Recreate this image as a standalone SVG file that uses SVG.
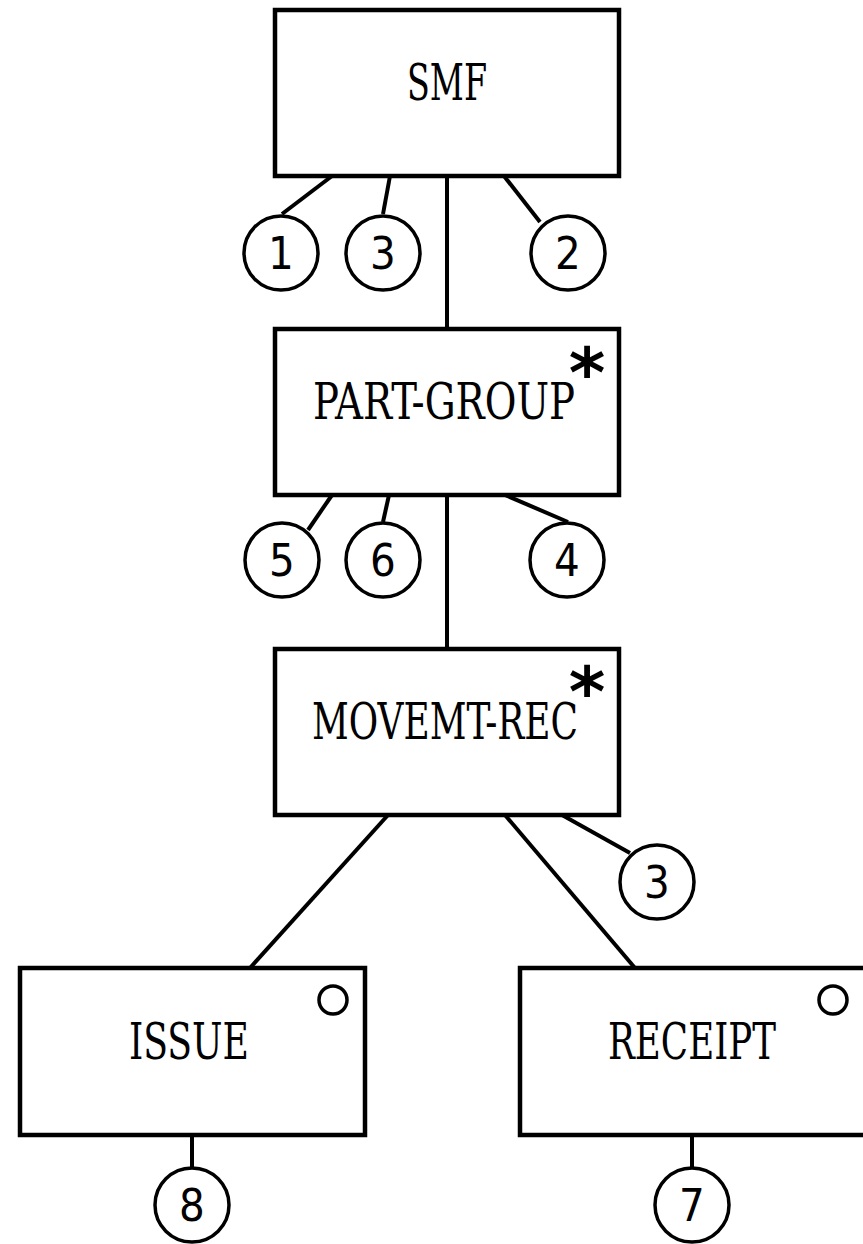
<svg xmlns="http://www.w3.org/2000/svg" width="863" height="1244" viewBox="0 0 863 1244">
<style>
.box{fill:#fff;stroke:#000;stroke-width:4.5}
.c{fill:#fff;stroke:#000;stroke-width:3.5}
.ln{stroke:#000;stroke-width:4;fill:none}
.lbl{font-family:"DejaVu Serif Condensed","DejaVu Serif","Liberation Serif",serif;font-stretch:condensed;font-size:50px;text-anchor:middle;fill:#000}
.num{font-family:"DejaVu Sans Condensed","DejaVu Sans","Liberation Sans",sans-serif;font-stretch:condensed;font-size:45px;text-anchor:middle;fill:#000}
.ast{font-family:"DejaVu Sans","Liberation Sans",sans-serif;font-weight:bold;font-size:70px;text-anchor:middle;fill:#000}
</style>
<rect width="863" height="1244" fill="#fff"/>
<g id="connectors">
<line class="ln" x1="332" y1="176" x2="282" y2="214"/>
<line class="ln" x1="390" y1="176" x2="383" y2="214"/>
<line class="ln" x1="447" y1="176" x2="447" y2="329"/>
<line class="ln" x1="504" y1="176" x2="540" y2="222"/>
<line class="ln" x1="332" y1="495" x2="308" y2="530"/>
<line class="ln" x1="389" y1="495" x2="383" y2="522"/>
<line class="ln" x1="447" y1="495" x2="447" y2="649"/>
<line class="ln" x1="505" y1="495" x2="568" y2="522"/>
<line class="ln" x1="388" y1="815" x2="250" y2="968"/>
<line class="ln" x1="505" y1="815" x2="635" y2="968"/>
<line class="ln" x1="562" y1="815" x2="630" y2="853"/>
<line class="ln" x1="192" y1="1135" x2="192" y2="1167"/>
<line class="ln" x1="692" y1="1135" x2="692" y2="1167"/>
</g>
<g id="smf">
<rect class="box" x="275" y="10" width="344" height="166"/>
<text class="lbl" x="447" y="100" textLength="80" lengthAdjust="spacingAndGlyphs">SMF</text>
</g>
<g id="part-group">
<rect class="box" x="275" y="329" width="344" height="166"/>
<text class="lbl" x="444" y="419" textLength="262" lengthAdjust="spacingAndGlyphs">PART-GROUP</text>
<text class="ast" x="587" y="397">*</text>
</g>
<g id="movemt-rec">
<rect class="box" x="275" y="649" width="344" height="166"/>
<text class="lbl" x="445" y="739" textLength="266" lengthAdjust="spacingAndGlyphs">MOVEMT-REC</text>
<text class="ast" x="587" y="716">*</text>
</g>
<g id="issue">
<rect class="box" x="20" y="968" width="345" height="167"/>
<text class="lbl" x="189" y="1059" textLength="120" lengthAdjust="spacingAndGlyphs">ISSUE</text>
<circle class="c" cx="333" cy="1000" r="14"/>
</g>
<g id="receipt">
<rect class="box" x="520" y="968" width="346" height="167"/>
<text class="lbl" x="692" y="1059" textLength="168" lengthAdjust="spacingAndGlyphs">RECEIPT</text>
<circle class="c" cx="833" cy="1000" r="14"/>
</g>
<g id="c1"><circle class="c" cx="281" cy="253" r="37"/><text class="num" x="281" y="269">1</text></g>
<g id="c3a"><circle class="c" cx="383" cy="253" r="37"/><text class="num" x="383" y="269">3</text></g>
<g id="c2"><circle class="c" cx="568" cy="253" r="37"/><text class="num" x="568" y="269">2</text></g>
<g id="c5"><circle class="c" cx="282" cy="560" r="37"/><text class="num" x="282" y="576">5</text></g>
<g id="c6"><circle class="c" cx="383" cy="560" r="37"/><text class="num" x="383" y="576">6</text></g>
<g id="c4"><circle class="c" cx="567" cy="560" r="37"/><text class="num" x="567" y="576">4</text></g>
<g id="c3b"><circle class="c" cx="657" cy="882" r="37"/><text class="num" x="657" y="898">3</text></g>
<g id="c8"><circle class="c" cx="192" cy="1205" r="37"/><text class="num" x="192" y="1221">8</text></g>
<g id="c7"><circle class="c" cx="692" cy="1205" r="37"/><text class="num" x="692" y="1221">7</text></g>
</svg>
